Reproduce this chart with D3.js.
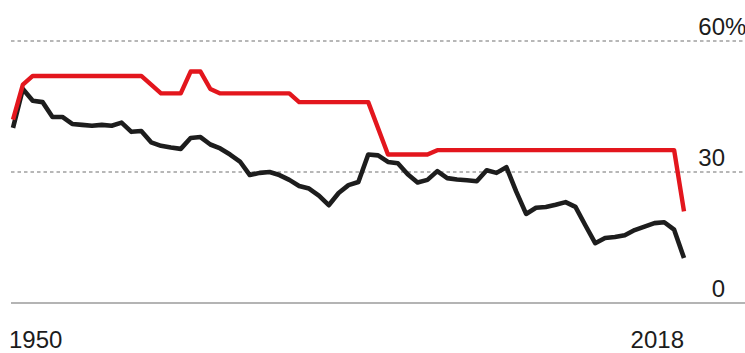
<!DOCTYPE html>
<html>
<head>
<meta charset="utf-8">
<script src="https://cdn.jsdelivr.net/npm/d3@7/dist/d3.min.js"></script>
<style>
  html, body { margin: 0; padding: 0; background: #ffffff; }
  svg { display: block; }
  text { font-family: "Liberation Sans", Arial, Helvetica, sans-serif; fill: #1c1c1c; }
</style>
</head>
<body>
<svg id="chart" width="745" height="353"></svg>
<script>
// Red series: change points of the rate
const redYears  = [1950, 1951, 1952, 1963, 1965, 1967, 1968, 1969, 1970, 1971, 1978, 1979, 1986, 1988, 1992, 1993, 2017, 2018];
const redValues = [42, 50, 52, 52, 48, 48, 53, 53, 49, 48, 48, 46, 46, 34, 34, 35, 35, 21];

// Black series: annual values, 1950-2018
const blackYears = d3.range(1950, 2019);
const blackValues = [
  40.1, 49.0, 46.3, 46.0, 42.6, 42.6, 41.0, 40.8, 40.6, 40.8,
  40.6, 41.3, 39.2, 39.4, 36.8, 36.0, 35.6, 35.3, 37.8, 38.0,
  36.3, 35.4, 34.0, 32.4, 29.3, 29.8, 30.0, 29.3, 28.2, 26.8,
  26.2, 24.6, 22.4, 25.2, 27.0, 27.7, 34.0, 33.8, 32.3, 32.0,
  29.5, 27.6, 28.2, 30.2, 28.6, 28.3, 28.1, 27.9, 30.4, 29.8,
  31.1, 25.5, 20.4, 21.8, 22.0, 22.5, 23.1, 22.0, 17.8, 13.7,
  14.9, 15.1, 15.5, 16.7, 17.5, 18.3, 18.5, 16.8, 10.3
];

// Axis labels
const yTicks = [0, 30, 60];
const xLabels = [1950, 2018];

const svg = d3.select("#chart");

const x = d3.scaleLinear().domain([1950, 2018]).range([13, 684]);
const y = d3.scaleLinear().domain([0, 60]).range([303, 41]);

// Horizontal grid: dotted at 30 and 60, solid baseline at 0
svg.append("g")
  .selectAll("line")
  .data(yTicks)
  .join("line")
  .attr("x1", 11)
  .attr("x2", 745)
  .attr("y1", d => y(d))
  .attr("y2", d => y(d))
  .attr("stroke", d => d === 0 ? "#b4b4b4" : "#a0a0a0")
  .attr("stroke-width", d => d === 0 ? 2.2 : 1.6)
  .attr("stroke-dasharray", d => d === 0 ? null : "3.5,3");

// Y labels on the right, numbers right-aligned above their gridlines
const yLab = svg.append("g");
yLab.selectAll("text.num")
  .data(yTicks)
  .join("text")
  .attr("class", "num")
  .attr("x", 725)
  .attr("y", d => y(d) - 6)
  .attr("text-anchor", "end")
  .attr("font-size", 24)
  .text(d => d);
yLab.append("text")
  .attr("x", 725)
  .attr("y", y(60) - 6)
  .attr("font-size", 24)
  .text("%");

// X labels
svg.append("g")
  .selectAll("text")
  .data(xLabels)
  .join("text")
  .attr("x", (d, i) => i === 0 ? x(d) - 4 : x(d))
  .attr("y", 348)
  .attr("text-anchor", (d, i) => i === 0 ? "start" : "end")
  .attr("font-size", 24)
  .text(d => d);

const line = d3.line()
  .x(d => x(d[0]))
  .y(d => y(d[1]));

// Black line
svg.append("path")
  .datum(blackYears.map((yr, i) => [yr, blackValues[i]]))
  .attr("fill", "none")
  .attr("stroke", "#1d1d1d")
  .attr("stroke-width", 4.6)
  .attr("stroke-linejoin", "round")
  .attr("d", line);

// Red line
svg.append("path")
  .datum(redYears.map((yr, i) => [yr, redValues[i]]))
  .attr("fill", "none")
  .attr("stroke", "#e3161d")
  .attr("stroke-width", 4.4)
  .attr("stroke-linejoin", "round")
  .attr("d", line);
</script>
</body>
</html>
